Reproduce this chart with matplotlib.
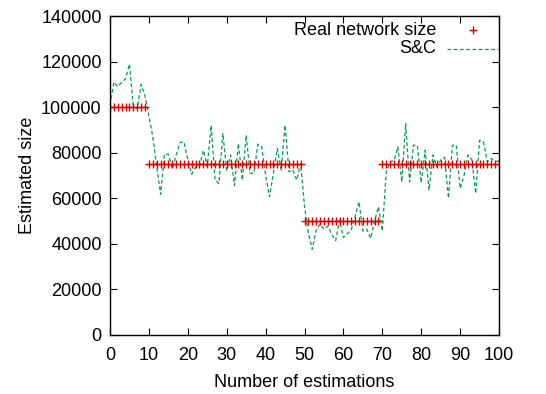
import matplotlib
matplotlib.use('Agg')
import matplotlib.pyplot as plt
import numpy as np

plt.rcParams['font.family'] = ['Liberation Sans', 'DejaVu Sans']

estimations = list(range(0, 101))

real_size = [100000] * 10 + [75000] * 40 + [50000] * 20 + [75000] * 31

sc_size = [
    101000, 111000, 109000, 111000, 112500, 119000, 100000, 99500, 110000, 105000,
    96000, 87000, 74000, 61700, 79400, 79400, 73000, 79000, 84500, 84800,
    77000, 70600, 73800, 74000, 81100, 74000, 92000, 68000, 66500, 88500,
    72000, 79000, 65600, 84000, 68000, 87700, 71000, 71000, 83800, 82600,
    70000, 60700, 71000, 81900, 72400, 92100, 71600, 72400, 68000, 75300,
    56300, 44600, 37600, 46100, 48700, 46400, 47800, 44000, 41400, 50400,
    42800, 44500, 46100, 52000, 58500, 45600, 46400, 42400, 50000, 56300,
    45600, 71600, 76000, 76500, 82600, 67200, 92800, 67200, 83300, 83300,
    66800, 81100, 63600, 79000, 73800, 76800, 78000, 60000, 83300, 83300,
    64300, 70000, 79000, 77000, 62100, 85500, 84800, 76000, 77500, 76000,
    76500,
]

red = '#e00000'
green = '#00a050'

fig = plt.figure(figsize=(5.46, 3.94), dpi=100)
ax = fig.add_axes([0.2015, 0.150, 0.7125, 0.809])

ax.plot(estimations, sc_size, color=green, lw=0.9, ls=(0, (3, 2)))
ax.plot(estimations, real_size, ls='none', marker='+', color=red, ms=6, mew=1)

ax.set_xlim(0, 100)
ax.set_ylim(0, 140000)
ax.set_xticks(range(0, 101, 10))
ax.set_yticks(range(0, 140001, 20000))
ax.tick_params(direction='in', top=True, right=True, length=5, labelsize=13)
ax.tick_params(axis='x', pad=9)
ax.tick_params(axis='y', pad=6)
for s in ax.spines.values():
    s.set_linewidth(1.0)

ax.set_xlabel('Number of estimations', fontsize=13, labelpad=7)
ax.set_ylabel('Estimated size', fontsize=13, labelpad=4)

# gnuplot style legend, labels right aligned, samples on the right
ax.text(0.838, 0.956, 'Real network size', transform=ax.transAxes,
        ha='right', va='center', fontsize=13)
ax.text(0.838, 0.897, 'S&C', transform=ax.transAxes,
        ha='right', va='center', fontsize=13)
ax.plot([0.933], [0.956], transform=ax.transAxes, ls='none', marker='+',
        color=red, ms=6, mew=1)
ax.plot([0.866, 0.997], [0.897, 0.897], transform=ax.transAxes,
        color=green, lw=0.9, ls=(0, (3, 2)))

fig.savefig('out.png', dpi=100)
